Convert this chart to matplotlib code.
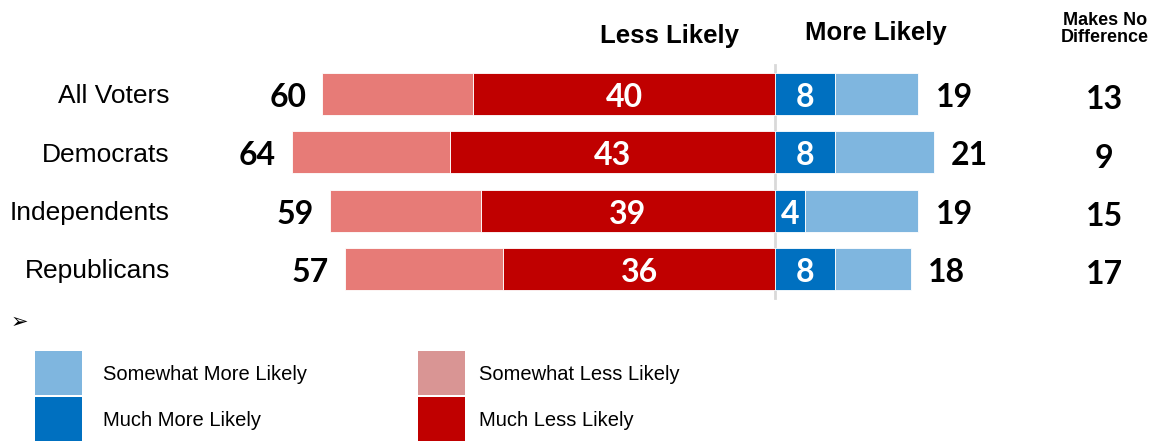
import matplotlib
matplotlib.use("Agg")
import matplotlib.pyplot as plt
import matplotlib.patches as mpatches
import numpy as np

# data
groups = ['All Voters', 'Democrats', 'Independents', 'Republicans']
much_less = [40, 43, 39, 36]
somewhat_less = [20, 21, 20, 21]
much_more = [8, 8, 4, 8]
somewhat_more = [11, 13, 15, 10]
no_difference = [13, 9, 15, 17]

legend_labels = ['Somewhat More Likely', 'Much More Likely',
                 'Somewhat Less Likely', 'Much Less Likely']

# colours
dark_red = '#C00000'
light_red = '#E77B77'
legend_light_red = '#D99594'
dark_blue = '#0070C0'
light_blue = '#7FB6DF'

W, H = 1170, 441
fig = plt.figure(figsize=(W / 100, H / 100), dpi=100)
ax = fig.add_axes([0, 0, 1, 1])

# x: percent units, center line at 775 px, 7.55 px per point
px_per = 7.55
ax.set_xlim(-775 / px_per, (W - 775) / px_per)
# y: rows 0..3 at 94 px + 58.3 px steps
row0, step = 94, 58.3
ax.set_ylim((H - row0) / step, -row0 / step)
ax.axis('off')

y = np.arange(len(groups))
ml = np.array(much_less)
sl = np.array(somewhat_less)
mm = np.array(much_more)
sm = np.array(somewhat_more)
total_less = ml + sl
total_more = mm + sm
h = 0.72

ax.barh(y, -ml, height=h, color=dark_red, edgecolor='white', linewidth=0.6)
ax.barh(y, -sl, left=-ml, height=h, color=light_red, edgecolor='white', linewidth=0.6)
ax.barh(y, mm, height=h, color=dark_blue, edgecolor='white', linewidth=0.6)
ax.barh(y, sm, left=mm, height=h, color=light_blue, edgecolor='white', linewidth=0.6)

# center line
ax.plot([0, 0], [-0.5, 3.5], color='#D9D9D9', lw=2, zorder=0)

numfont = dict(family=['Lato', 'DejaVu Sans'], fontweight='bold', fontsize=23)
for i in range(len(groups)):
    ax.text(-total_less[i] - 2.1, y[i] + 0.06, str(total_less[i]), ha='right', va='center', color='black', **numfont)
    ax.text(-ml[i] / 2, y[i] + 0.06, str(ml[i]), ha='center', va='center', color='white', **numfont)
    ax.text(mm[i] / 2, y[i] + 0.06, str(mm[i]), ha='center', va='center', color='white', **numfont)
    ax.text(total_more[i] + 2.3, y[i] + 0.06, str(total_more[i]), ha='left', va='center', color='black', **numfont)
    ax.text((1104 - 775) / px_per, y[i] + 0.1, str(no_difference[i]), ha='center', va='center', color='black', **numfont)
    ax.text((170 - 775) / px_per, y[i] + 0.04, groups[i], ha='right', va='center',
            family='Liberation Sans', fontsize=19, color='black')

def fx(px):
    return px / W

def fy(px):
    return 1 - px / H

hdr = dict(family='Liberation Sans', fontweight='bold', color='black')
fig.text(fx(670), fy(36), 'Less Likely', ha='center', va='center', fontsize=18.5, **hdr)
fig.text(fx(876), fy(33), 'More Likely', ha='center', va='center', fontsize=18.5, **hdr)
fig.text(fx(1105), fy(29), 'Makes No\nDifference', ha='center', va='center', fontsize=13,
         linespacing=1.05, **hdr)

fig.text(fx(19), fy(322), '\u27a2', ha='center', va='center', fontsize=15, family='DejaVu Sans')

# legend block
leg_colors = [light_blue, dark_blue, legend_light_red, dark_red]
leg_pos = [(35, 351), (35, 397), (418, 351), (418, 397)]
text_off = [68, 68, 61, 61]
for (lx, ly), c, lab, off in zip(leg_pos, leg_colors, legend_labels, text_off):
    fig.add_artist(mpatches.Rectangle((fx(lx), fy(ly + 44)), 47 / W, 44 / H,
                                      transform=fig.transFigure, color=c, lw=0))
    fig.text(fx(lx + off), fy(ly + 23), lab, ha='left', va='center', fontsize=14.5,
             family='Liberation Sans', color='black')

fig.savefig('out.png', dpi=100, facecolor='white')
